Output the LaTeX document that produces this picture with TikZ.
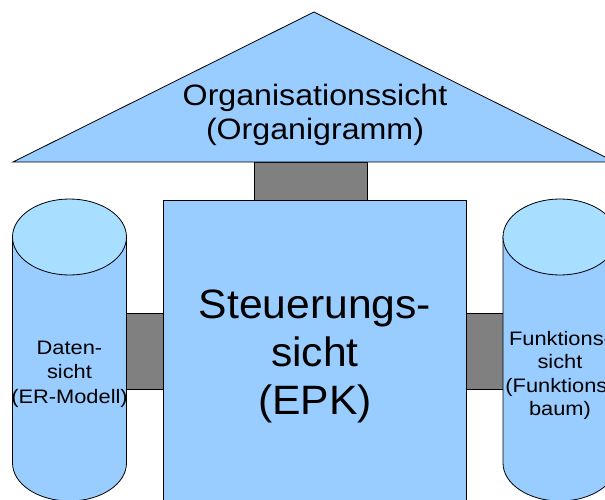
\documentclass[tikz,border=0pt]{standalone}
\usepackage{fontspec}
\setmainfont{Liberation Sans}
\newfontfamily\rooffont[FakeStretch=1.09]{Liberation Sans}
\newfontfamily\mainfont[FakeStretch=1.04]{Liberation Sans}
\newfontfamily\sidefont[FakeStretch=1.12]{Liberation Sans}
\definecolor{boxblue}{HTML}{99CCFF}
\definecolor{topblue}{HTML}{A8DEFF}
\definecolor{linkgray}{HTML}{808080}
\begin{document}
\begin{tikzpicture}[x=1pt,y=-1pt,
  viewshape/.style={fill=boxblue, draw=black, line width=0.8pt},
  viewtop/.style={fill=topblue, draw=black, line width=0.8pt},
  linkblock/.style={fill=linkgray, draw=black, line width=0.8pt},
  viewtext/.style={anchor=base, inner sep=0pt, text=black},
  rooftext/.style={viewtext, font=\rooffont\fontsize{29.5}{34}\selectfont},
  maintext/.style={viewtext, font=\mainfont\fontsize{41}{48}\selectfont},
  sidetext/.style={viewtext, font=\sidefont\fontsize{19.5}{24}\selectfont}]
\useasboundingbox (0,0) rectangle (605,500);
\clip (0,0) rectangle (605,500);

% named reference points
\coordinate (apex) at (314,12);
\coordinate (baseL) at (13,162);
\coordinate (baseR) at (615,162);

% central box
\node[viewshape, anchor=north west, minimum width=303pt, minimum height=320pt, inner sep=0pt] (steu) at (163,200) {};

% gray link blocks (connectors)
\draw[linkblock] (254.5,162) rectangle (steu.north -| 367.5,0);
\draw[linkblock] (126.5,313) rectangle (steu.west |- 0,389);
\draw[linkblock] (steu.east |- 0,313) rectangle (503,389);

% redraw central box on top of links
\node[viewshape, anchor=north west, minimum width=303pt, minimum height=320pt, inner sep=0pt] at (163,200) {};

% roof triangle
\draw[viewshape] (apex) -- (baseR) -- (baseL) -- cycle;

% left cylinder
\path[viewshape] (12.5,237) -- (12.5,463)
  arc[start angle=180, end angle=0, x radius=57, y radius=38]
  -- (126.5,237) -- cycle;
\draw[viewtop] (69.5,237) ellipse[x radius=57, y radius=38];
\coordinate (datacyl) at (69.5,237);

% right cylinder
\path[viewshape] (503,237) -- (503,463)
  arc[start angle=180, end angle=0, x radius=57, y radius=38]
  -- (617,237) -- cycle;
\draw[viewtop] (560,237) ellipse[x radius=57, y radius=38];
\coordinate (funkcyl) at (560,237);

% texts
\node[rooftext] (org1) at (315,106) {Organisationssicht};
\node[rooftext] (org2) at (315,140) {(Organigramm)};

\node[maintext] (steu1) at (315,318) {Steuerungs-};
\node[maintext] (steu2) at (315,366.5) {sicht};
\node[maintext] (steu3) at (315,414) {(EPK)};

\node[sidetext] (data1) at (69.5,354) {Daten-};
\node[sidetext] (data2) at (69.5,378.5) {sicht};
\node[sidetext] (data3) at (69.5,403) {(ER-Modell)};

\node[sidetext] (funk1) at (560,345) {Funktions-};
\node[sidetext] (funk2) at (560,368.5) {sicht};
\node[sidetext] (funk3) at (560,392) {(Funktions-};
\node[sidetext] (funk4) at (560,415.5) {baum)};
\end{tikzpicture}
\end{document}
